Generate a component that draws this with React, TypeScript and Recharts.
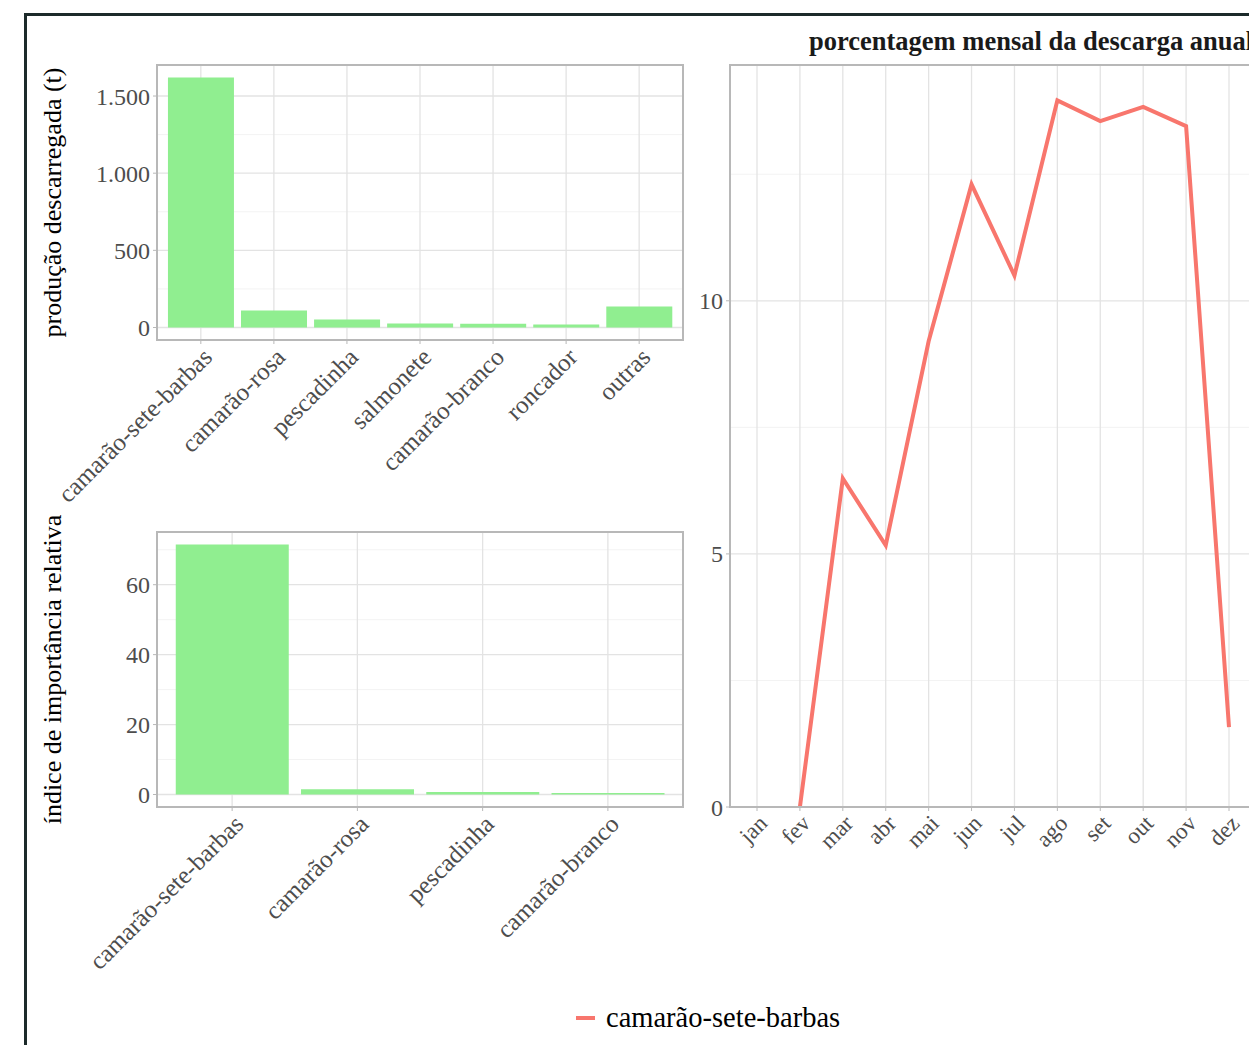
import {
  BarChart, Bar, LineChart, Line, XAxis, YAxis, CartesianGrid, Legend,
} from 'recharts'

// produção descarregada (t) por espécie
const landedSpecies = ['camarão-sete-barbas', 'camarão-rosa', 'pescadinha', 'salmonete', 'camarão-branco', 'roncador', 'outras']
const landedTonnes = [1620, 110, 52, 26, 24, 20, 136]
const landedTicks = [0, 500, 1000, 1500]
const landedMinor = [250, 750, 1250]

// índice de importância relativa
const iriSpecies = ['camarão-sete-barbas', 'camarão-rosa', 'pescadinha', 'camarão-branco']
const iriValues = [71.5, 1.5, 0.7, 0.4]
const iriTicks = [0, 20, 40, 60]
const iriMinor = [10, 30, 50, 70]

// porcentagem mensal da descarga anual
const months = ['jan', 'fev', 'mar', 'abr', 'mai', 'jun', 'jul', 'ago', 'set', 'out', 'nov', 'dez']
const monthlyShare: (number | null)[] = [null, 0, 6.49, 5.17, 9.2, 12.3, 10.5, 13.96, 13.55, 13.83, 13.45, 1.58]
const shareTicks = [0, 5, 10]
const shareMinor = [2.5, 7.5, 12.5]
const seriesName = 'camarão-sete-barbas'

const SERIF = "'Liberation Serif', 'DejaVu Serif', serif"
const TICK_GREY = '#4d4d4d'
const GRID = '#e3e3e3'
const GRID_MINOR = '#f3f3f3'
const BORDER = '#b8b8b8'
const GREEN = '#90ee90'
const RED = '#f8766d'

const landedData = landedSpecies.map((name, i) => ({ name, value: landedTonnes[i] }))
const iriData = iriSpecies.map((name, i) => ({ name, value: iriValues[i] }))
const shareData = months.map((month, i) => ({ month, share: monthlyShare[i] }))

// ggplot-like 5% expansion
const expand = (max: number, lower = true): [number, number] => [lower ? -max * 0.05 : 0, max * 1.05]
const landedDomain = expand(Math.max(...landedTonnes))
const iriDomain = expand(Math.max(...iriValues))
const shareDomain = expand(Math.max(...(monthlyShare.filter(v => v != null) as number[])), false)

const ptBR = (v: number) => String(v).replace(/\B(?=(\d{3})+(?!\d))/g, '.')

// panel boxes (page coords) — chart margins are derived from these
type Box = { left: number; top: number; right: number; bottom: number }
const panelLanded: Box = { left: 157, top: 65, right: 683, bottom: 340 }
const panelIri: Box = { left: 157, top: 532, right: 683, bottom: 807 }
const panelShare: Box = { left: 730, top: 65, right: 1256, bottom: 807 }

function SlantTick({ x, y, payload, fontSize }: { x?: number; y?: number; payload?: { value: string }; fontSize: number }) {
  return (
    <g transform={`translate(${x},${y})`}>
      <text
        textAnchor="end"
        dy="0.72em"
        transform="rotate(-45)"
        fill={TICK_GREY}
        fontSize={fontSize}
        fontFamily={SERIF}
      >
        {payload?.value}
      </text>
    </g>
  )
}

function YTitle({ viewBox, value }: { viewBox?: { x: number; y: number; width: number; height: number }; value: string }) {
  if (!viewBox) return null
  const cx = 52
  const cy = viewBox.y + viewBox.height / 2
  return (
    <text
      x={cx}
      y={cy}
      transform={`rotate(-90, ${cx}, ${cy})`}
      textAnchor="middle"
      dominantBaseline="central"
      fill="#000"
      fontSize={26}
      fontFamily={SERIF}
    >
      {value}
    </text>
  )
}

function ShareLegend({ payload }: { payload?: { value: string; color?: string }[] }) {
  return (
    <div style={{ display: 'flex', alignItems: 'center' }}>
      {(payload ?? []).map(item => (
        <div key={item.value} style={{ display: 'flex', alignItems: 'center' }}>
          <span style={{ display: 'inline-block', width: 19, height: 4, background: item.color, marginRight: 11 }} />
          <span style={{ fontFamily: SERIF, fontSize: 28.5, color: '#000' }}>{item.value}</span>
        </div>
      ))}
    </div>
  )
}

function PanelBorder({ box }: { box: Box }) {
  return (
    <div style={{
      position: 'absolute', left: box.left - 1, top: box.top - 1,
      width: box.right - box.left + 2, height: box.bottom - box.top + 2,
      border: `2px solid ${BORDER}`, boxSizing: 'border-box', pointerEvents: 'none',
    }} />
  )
}

const yTick = { fill: TICK_GREY, fontSize: 24, fontFamily: SERIF }

export default function App() {
  const top2 = 480
  return (
    <div style={{ position: 'absolute', left: 0, top: 0, width: 1249, height: 1045, overflow: 'hidden', background: '#fff' }}>
      <div style={{ position: 'absolute', left: 0, top: 0 }}>
        <BarChart
          width={700}
          height={520}
          data={landedData}
          margin={{ top: panelLanded.top, right: 700 - panelLanded.right, bottom: 0, left: 0 }}
          barCategoryGap="5%"
        >
          <CartesianGrid stroke={GRID_MINOR} strokeWidth={1} vertical={false} horizontalValues={landedMinor} />
          <CartesianGrid stroke={GRID} strokeWidth={1.3} />
          <XAxis
            dataKey="name"
            type="category"
            height={520 - panelLanded.bottom}
            interval={0}
            padding={{ left: 7.3, right: 7.3 }}
            axisLine={false}
            tickLine={{ stroke: BORDER }}
            tickSize={4}
            tick={<SlantTick fontSize={25} />}
          />
          <YAxis
            type="number"
            width={panelLanded.left}
            domain={landedDomain}
            ticks={landedTicks}
            allowDataOverflow
            axisLine={false}
            tickLine={{ stroke: BORDER }}
            tickSize={4}
            tickMargin={3}
            tick={yTick}
            tickFormatter={ptBR}
            label={<YTitle value="produção descarregada (t)" />}
          />
          <Bar dataKey="value" fill={GREEN} isAnimationActive={false} />
        </BarChart>
      </div>

      <div style={{ position: 'absolute', left: 0, top: top2 }}>
        <BarChart
          width={700}
          height={540}
          data={iriData}
          margin={{ top: panelIri.top - top2, right: 700 - panelIri.right, bottom: 0, left: 0 }}
          barCategoryGap="5%"
        >
          <CartesianGrid stroke={GRID_MINOR} strokeWidth={1} vertical={false} horizontalValues={iriMinor} />
          <CartesianGrid stroke={GRID} strokeWidth={1.3} />
          <XAxis
            dataKey="name"
            type="category"
            height={top2 + 540 - panelIri.bottom}
            interval={0}
            padding={{ left: 12.5, right: 12.5 }}
            axisLine={false}
            tickLine={{ stroke: BORDER }}
            tickSize={4}
            tick={<SlantTick fontSize={25} />}
          />
          <YAxis
            type="number"
            width={panelIri.left}
            domain={iriDomain}
            ticks={iriTicks}
            allowDataOverflow
            axisLine={false}
            tickLine={{ stroke: BORDER }}
            tickSize={4}
            tickMargin={3}
            tick={yTick}
            label={<YTitle value="índice de importância relativa" />}
          />
          <Bar dataKey="value" fill={GREEN} isAnimationActive={false} />
        </BarChart>
      </div>

      <div style={{ position: 'absolute', left: 0, top: 0 }}>
        <LineChart
          width={1280}
          height={1045}
          data={shareData}
          margin={{ top: panelShare.top, right: 1280 - panelShare.right, bottom: 0, left: panelShare.left - 50 }}
        >
          <CartesianGrid stroke={GRID_MINOR} strokeWidth={1} vertical={false} horizontalValues={shareMinor} />
          <CartesianGrid stroke={GRID} strokeWidth={1.3} />
          <XAxis
            dataKey="month"
            type="category"
            height={1045 - panelShare.bottom}
            interval={0}
            padding={{ left: 27, right: 27 }}
            axisLine={false}
            tickLine={{ stroke: BORDER }}
            tickSize={4}
            tick={<SlantTick fontSize={23} />}
          />
          <YAxis
            type="number"
            width={50}
            domain={shareDomain}
            ticks={shareTicks}
            allowDataOverflow
            axisLine={false}
            tickLine={{ stroke: BORDER }}
            tickSize={4}
            tickMargin={3}
            tick={yTick}
          />
          <Line
            type="linear"
            dataKey="share"
            name={seriesName}
            stroke={RED}
            strokeWidth={4}
            dot={false}
            connectNulls={false}
            isAnimationActive={false}
          />
          <Legend
            layout="horizontal"
            align="center"
            verticalAlign="middle"
            content={<ShareLegend />}
            wrapperStyle={{ position: 'absolute', left: 576, top: 1002, width: 'auto' }}
          />
        </LineChart>
      </div>

      <PanelBorder box={panelLanded} />
      <PanelBorder box={panelIri} />
      <PanelBorder box={panelShare} />

      <div style={{
        position: 'absolute', left: 809, top: 26, whiteSpace: 'nowrap',
        fontFamily: SERIF, fontSize: 26.5, fontWeight: 'bold', color: '#1a1a1a',
      }}>
        porcentagem mensal da descarga anual
      </div>

      <div style={{
        position: 'absolute', left: 24, top: 13, width: 1300, height: 1100,
        border: '3px solid #1c2a2a', pointerEvents: 'none',
      }} />
    </div>
  )
}
